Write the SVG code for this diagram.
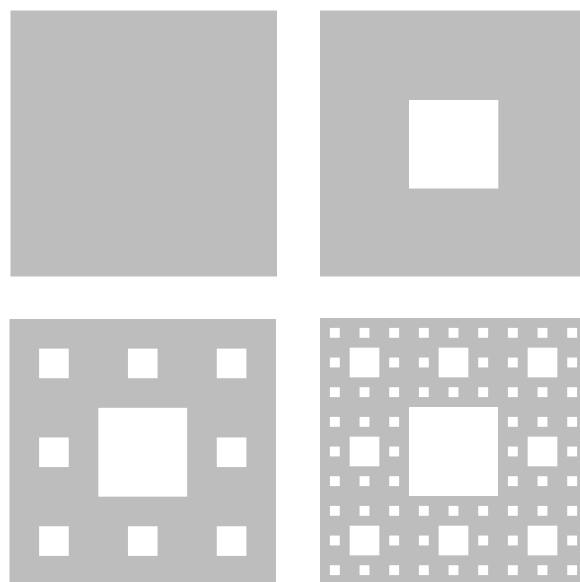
<svg xmlns="http://www.w3.org/2000/svg" xmlns:xlink="http://www.w3.org/1999/xlink" width="580" height="582" viewBox="0 0 580 582">
  <style>
    .g { fill: #bdbdbd; }
    .h { fill: #ffffff; }
  </style>
  <defs>
    <g id="cell2">
      <rect class="h" x="3" y="3" width="3" height="3"/>
    </g>
    <g id="cell3">
      <rect class="h" x="3" y="3" width="3" height="3"/>
      <rect class="h" x="1" y="1" width="1" height="1"/>
      <rect class="h" x="4" y="1" width="1" height="1"/>
      <rect class="h" x="7" y="1" width="1" height="1"/>
      <rect class="h" x="1" y="4" width="1" height="1"/>
      <rect class="h" x="7" y="4" width="1" height="1"/>
      <rect class="h" x="1" y="7" width="1" height="1"/>
      <rect class="h" x="4" y="7" width="1" height="1"/>
      <rect class="h" x="7" y="7" width="1" height="1"/>
    </g>
  </defs>
  <rect x="0" y="0" width="580" height="582" fill="#ffffff"/>

  <g id="level0">
    <rect class="g" x="10.5" y="10.5" width="266.5" height="266"/>
  </g>

  <g id="level1">
    <rect class="g" x="320" y="10.5" width="267" height="266"/>
    <rect class="h" x="409" y="100" width="89.3" height="88.5"/>
  </g>

  <g id="level2" transform="translate(9.5,319) scale(9.87)">
    <rect class="g" x="0" y="0" width="27" height="27"/>
    <rect class="h" x="9" y="9" width="9" height="9"/>
    <use xlink:href="#cell2" x="0" y="0"/>
    <use xlink:href="#cell2" x="9" y="0"/>
    <use xlink:href="#cell2" x="18" y="0"/>
    <use xlink:href="#cell2" x="0" y="9"/>
    <use xlink:href="#cell2" x="18" y="9"/>
    <use xlink:href="#cell2" x="0" y="18"/>
    <use xlink:href="#cell2" x="9" y="18"/>
    <use xlink:href="#cell2" x="18" y="18"/>
  </g>

  <g id="level3" transform="translate(320,318) scale(9.889)">
    <rect class="g" x="0" y="0" width="27" height="27"/>
    <rect class="h" x="9" y="9" width="9" height="9"/>
    <use xlink:href="#cell3" x="0" y="0"/>
    <use xlink:href="#cell3" x="9" y="0"/>
    <use xlink:href="#cell3" x="18" y="0"/>
    <use xlink:href="#cell3" x="0" y="9"/>
    <use xlink:href="#cell3" x="18" y="9"/>
    <use xlink:href="#cell3" x="0" y="18"/>
    <use xlink:href="#cell3" x="9" y="18"/>
    <use xlink:href="#cell3" x="18" y="18"/>
  </g>
</svg>
